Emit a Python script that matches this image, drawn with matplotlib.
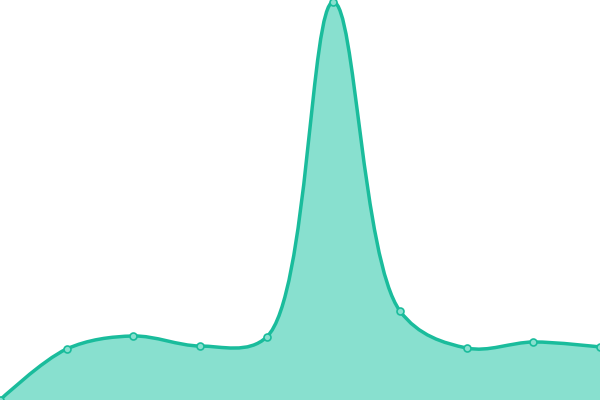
import matplotlib
matplotlib.use("Agg")
import matplotlib.pyplot as plt
from matplotlib.path import Path
from matplotlib.patches import PathPatch
import numpy as np

categories = list(range(10))
values = [0, 51, 64, 54, 63, 398, 89, 52, 58, 53]

LINE = "#1abc9c"
FILL = "#88e0cf"

W, H = 600, 400
fig = plt.figure(figsize=(6, 4), dpi=100)
ax = fig.add_axes([0, 0, 1, 1])
ax.set_xlim(0, 9)
ax.set_ylim(0, 400)
ax.axis("off")

x = np.array(categories, dtype=float)
y = np.array(values, dtype=float)
sx = W / 9.0  # pixel per x unit (y is 1 px per unit)

def centripetal(x, y, alpha=0.5):
    # d3 curveCatmullRom (alpha=0.5), computed in pixel space
    P = [np.array([xi * sx, yi]) for xi, yi in zip(x, y)]
    n = len(P)
    verts = [tuple(P[0])]
    codes = [Path.MOVETO]
    eps = 1e-12
    for i in range(n - 1):
        p1, p2 = P[i], P[i + 1]
        l12 = np.linalg.norm(p2 - p1)
        l12a, l12_2a = l12 ** alpha, l12 ** (2 * alpha)
        c1 = p1.copy()
        if i > 0:
            p0 = P[i - 1]
            l01 = np.linalg.norm(p1 - p0)
            l01a, l01_2a = l01 ** alpha, l01 ** (2 * alpha)
            if l01a > eps:
                a = 2 * l01_2a + 3 * l01a * l12a + l12_2a
                nn = 3 * l01a * (l01a + l12a)
                c1 = (p1 * a - p0 * l12_2a + p2 * l01_2a) / nn
        c2 = p2.copy()
        if i + 2 < n:
            p3 = P[i + 2]
            l23 = np.linalg.norm(p3 - p2)
            l23a, l23_2a = l23 ** alpha, l23 ** (2 * alpha)
            if l23a > eps:
                b = 2 * l23_2a + 3 * l23a * l12a + l12_2a
                m = 3 * l23a * (l23a + l12a)
                c2 = (p2 * b + p1 * l23_2a - p3 * l12_2a) / m
        for c in (c1, c2, p2):
            verts.append((c[0] / sx, c[1]))
            codes.append(Path.CURVE4)
    return verts, codes

verts, codes = centripetal(x, y)
fill_verts = verts + [(x[-1], 0), (x[0], 0), (x[0], y[0])]
fill_codes = codes + [Path.LINETO, Path.LINETO, Path.CLOSEPOLY]
ax.add_patch(PathPatch(Path(fill_verts, fill_codes), facecolor=FILL, edgecolor="none", zorder=1))
ax.add_patch(PathPatch(Path(verts, codes), facecolor="none", edgecolor=LINE, lw=2.5, zorder=2))
ax.scatter(x, y, s=25, facecolor=FILL, edgecolor=LINE, linewidth=1.2, zorder=3, clip_on=False)

fig.savefig("out.png", dpi=100)
